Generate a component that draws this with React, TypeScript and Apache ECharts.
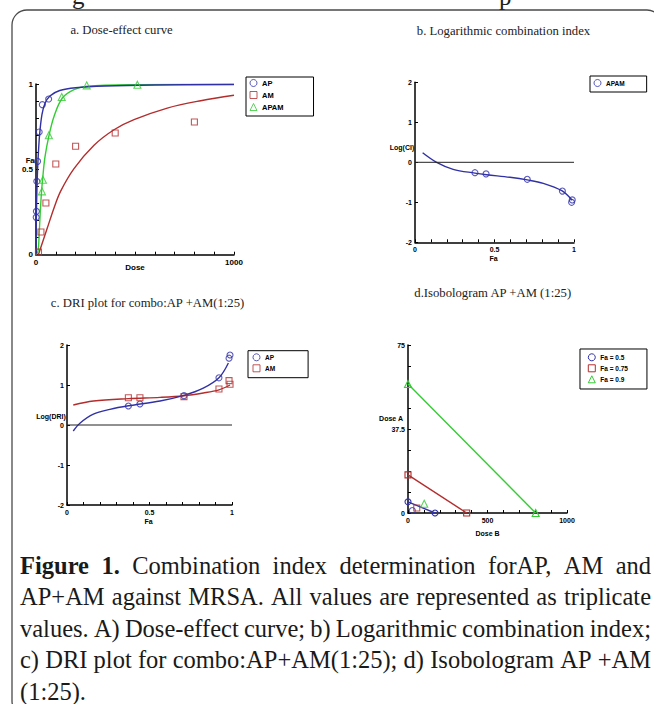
import React, { useEffect, useRef } from "react";
import * as echarts from "echarts";

const BLUE = "#3131a6";
const RED = "#b32d2d";
const GREEN = "#33cc33";

// ---- a. Dose-effect curve ----
const apDose = [1, 2, 4, 8, 16, 32, 64];
const apFa = [0.219, 0.254, 0.43, 0.547, 0.719, 0.879, 0.912];
const amDose = [12.5, 25, 50, 100, 200, 400, 800];
const amFa = [0.015, 0.133, 0.303, 0.531, 0.635, 0.713, 0.777];
const apamDose = [30, 35, 65, 130, 256, 512];
const apamFa = [0.371, 0.439, 0.7, 0.924, 0.992, 0.996];
const apCurveDose = [0, 1, 3, 6, 10, 18, 30, 45, 70, 120, 200, 350, 600, 1000];
const apCurveFa = [0, 0.15, 0.3, 0.43, 0.55, 0.7, 0.82, 0.885, 0.93, 0.962, 0.978, 0.988, 0.994, 0.997];
const amCurveDose = [12, 57, 91, 124, 192, 293, 394, 495, 663, 832, 1000];
const amCurveFa = [0, 0.156, 0.274, 0.371, 0.504, 0.641, 0.732, 0.791, 0.859, 0.902, 0.934];
const apamCurveDose = [0, 10, 16, 22, 28, 34, 45, 66, 91, 133, 192, 259, 512, 1000];
const apamCurveFa = [0, 0.02, 0.12, 0.26, 0.37, 0.45, 0.57, 0.7, 0.81, 0.918, 0.967, 0.987, 0.996, 0.999];
const aXLabels = [0, 1000];
const aYLabels = [0, 0.5, 1];

// ---- b. Logarithmic combination index ----
const ciFa = [0.377, 0.447, 0.706, 0.927, 0.989, 0.985];
const ciLog = [-0.26, -0.29, -0.425, -0.72, -0.94, -1.0];
const ciCurveFa = [0.048, 0.136, 0.24, 0.377, 0.45, 0.597, 0.706, 0.807, 0.923, 0.989];
const ciCurveLog = [0.24, 0, -0.175, -0.27, -0.31, -0.375, -0.44, -0.525, -0.71, -0.95];
const faLabels = [0, 0.5, 1];
const logLabels = [-2, -1, 0, 1, 2];

// ---- c. DRI plot ----
const driFa = [0.372, 0.442, 0.709, 0.921, 0.982, 0.988];
const driAP = [0.475, 0.525, 0.733, 1.18, 1.67, 1.75];
const driAM = [0.683, 0.683, 0.71, 0.9, 1.11, 1.02];
const driApCurveFa = [0.038, 0.08, 0.16, 0.26, 0.372, 0.564, 0.709, 0.826, 0.921, 0.978];
const driApCurve = [-0.15, 0.05, 0.27, 0.39, 0.48, 0.6, 0.74, 0.92, 1.18, 1.55];
const driAmCurveFa = [0.038, 0.16, 0.372, 0.564, 0.709, 0.826, 0.921, 0.988];
const driAmCurve = [0.5, 0.6, 0.66, 0.69, 0.73, 0.8, 0.88, 1.0];

// ---- d. Isobologram ----
const isoNames = ["Fa = 0.5", "Fa = 0.75", "Fa = 0.9"];
const isoDoseA = [5.0, 17.0, 57.6];
const isoDoseB = [170, 369, 803];
const comboDoseB = [27, 55, 102];
const comboDoseA = [1.1, 2.2, 4.1];
const dXLabels = [0, 500, 1000];
const dYLabels = [0, 37.5, 75];

const titles = [
  { text: "a. Dose-effect curve", x: 121.5, y: 30 },
  { text: "b. Logarithmic combination index", x: 503.5, y: 31 },
  { text: "c. DRI plot for combo:AP +AM(1:25)", x: 147.5, y: 302.7 },
  { text: "d.Isobologram AP +AM (1:25)", x: 492.7, y: 292.7 },
];
const axisNames = [
  { text: "Fa", x: 30, y: 160, s: 7.5 },
  { text: "Dose", x: 135, y: 267, s: 8 },
  { text: "Log(CI)", x: 402, y: 147, s: 7 },
  { text: "Fa", x: 493.5, y: 258, s: 7 },
  { text: "Log(DRI)", x: 51, y: 416, s: 7 },
  { text: "Fa", x: 148.5, y: 521, s: 7 },
  { text: "Dose A", x: 391, y: 418, s: 7 },
  { text: "Dose B", x: 487.5, y: 533, s: 7 },
];
const captionLines: { t: string; b?: boolean }[][] = [
  [{ t: "Figure", b: true }, { t: "1.", b: true }, { t: "Combination" }, { t: "index" }, { t: "determination" }, { t: "forAP," }, { t: "AM" }, { t: "and" }],
  "AP+AM against MRSA. All values are represented as triplicate".split(" ").map((t) => ({ t })),
  "values. A) Dose-effect curve; b) Logarithmic combination index;".split(" ").map((t) => ({ t })),
  "c) DRI plot for combo:AP+AM(1:25); d) Isobologram AP +AM".split(" ").map((t) => ({ t })),
  "(1:25).".split(" ").map((t) => ({ t })),
];
const captionY = [565, 596.5, 628, 659.5, 691];

const SANS = '"Liberation Sans Narrow", "Liberation Sans", Arial, sans-serif';
const SERIF = '"Liberation Serif", "Times New Roman", serif';
const CAP = 24.5;

const zip = (xs: number[], ys: number[]) => xs.map((x, i) => [x, ys[i]]);

function axis(gridIndex: number, min: number, max: number, interval: number, shown: number[], fontSize: number, margin: number) {
  return {
    type: "value",
    gridIndex,
    min,
    max,
    interval,
    axisLine: { show: true, onZero: false, lineStyle: { color: "#000", width: 1.5 } },
    axisTick: { show: true, inside: true, length: 3, lineStyle: { color: "#000", width: 1 } },
    splitLine: { show: false },
    axisLabel: {
      show: true,
      margin,
      fontSize,
      fontWeight: "bold",
      fontFamily: SANS,
      color: "#000",
      showMinLabel: true,
      showMaxLabel: true,
      formatter: (v: number) => (shown.some((s) => Math.abs(s - v) < 1e-6) ? String(+v.toFixed(4)) : ""),
    },
  };
}

const hollow = (c: string) => ({ color: "transparent", borderColor: c, borderWidth: 1.1 });

function curve(xi: number, data: number[][], color: string) {
  return {
    type: "line",
    xAxisIndex: xi,
    yAxisIndex: xi,
    data,
    smooth: 0.35,
    showSymbol: false,
    silent: true,
    lineStyle: { color, width: 1.4 },
    itemStyle: { color },
    z: 2,
  };
}
function marks(xi: number, name: string | undefined, data: number[][], color: string, symbol: string, size: number) {
  return {
    type: "scatter",
    name,
    xAxisIndex: xi,
    yAxisIndex: xi,
    data,
    symbol,
    symbolSize: size,
    itemStyle: hollow(color),
    z: 3,
  };
}

function legend(items: { name: string; icon: string }[], left: number, top: number, padding: number[], gap: number, fontSize: number) {
  return {
    orient: "vertical",
    left,
    top,
    padding,
    itemGap: gap,
    itemWidth: 7,
    itemHeight: 7,
    selectedMode: false,
    backgroundColor: "#fff",
    borderColor: "#000",
    borderWidth: 1,
    data: items,
    itemStyle: { borderWidth: 1 },
    formatter: (n: string) => n.split(":")[1],
    textStyle: { fontSize, fontWeight: "bold", fontFamily: SANS, color: "#000", lineHeight: 8 },
  };
}

export default function App() {
  const ref = useRef<HTMLDivElement>(null);
  useEffect(() => {
    if (!ref.current) return;
    const chart = echarts.init(ref.current, undefined, { renderer: "svg" });

    const canvas = document.createElement("canvas");
    const ctx = canvas.getContext("2d")!;
    const measure = (w: string, b?: boolean) => {
      ctx.font = `${b ? "bold " : ""}${CAP}px "Liberation Serif"`;
      return ctx.measureText(w).width;
    };
    const LEFT = 20;
    const RIGHT = 651;
    const captionEls: any[] = [];
    captionLines.forEach((words, li) => {
      const widths = words.map((w) => measure(w.t, w.b));
      const total = widths.reduce((a, b) => a + b, 0);
      const last = li === captionLines.length - 1;
      const gap = last || words.length < 2 ? measure(" ") : (RIGHT - LEFT - total) / (words.length - 1);
      let x = LEFT;
      words.forEach((w, i) => {
        captionEls.push({
          type: "text",
          x,
          y: captionY[li],
          style: {
            text: w.t,
            fontSize: CAP,
            fontFamily: SERIF,
            fontWeight: w.b ? "bold" : "normal",
            fill: "#1a1a1a",
            align: "left",
            verticalAlign: "middle",
          },
        });
        x += widths[i] + gap;
      });
    });

    const graphics: any[] = [
      {
        type: "rect",
        shape: { x: 12, y: 10, width: 650, height: 706, r: 15 },
        style: { fill: "none", stroke: "#4a4a4a", lineWidth: 1.3 },
        z: 0,
      },
      { type: "text", x: 72, y: -5, style: { text: "g", fontSize: 25, fontFamily: SERIF, fill: "#222", verticalAlign: "middle" } },
      { type: "text", x: 499, y: -4, style: { text: "p", fontSize: 25, fontFamily: SERIF, fill: "#222", verticalAlign: "middle" } },
      ...titles.map((t) => ({
        type: "text",
        x: t.x,
        y: t.y,
        style: { text: t.text, fontSize: 12.7, fontFamily: SERIF, fill: "#222", align: "center", verticalAlign: "middle" },
      })),
      ...axisNames.map((t) => ({
        type: "text",
        x: t.x,
        y: t.y,
        style: { text: t.text, fontSize: t.s, fontWeight: "bold", fontFamily: SANS, fill: "#000", align: "center", verticalAlign: "middle" },
      })),
      ...captionEls,
    ];

    const isoColors = [BLUE, RED, GREEN];
    const isoSymbols = ["circle", "rect", "triangle"];

    const option: any = {
      animation: false,
      backgroundColor: "#fff",
      grid: [
        { left: 36, top: 84, width: 198, height: 170.7, containLabel: false, outerBoundsMode: "none" },
        { left: 415, top: 82.3, width: 159, height: 160, containLabel: false, outerBoundsMode: "none" },
        { left: 67, top: 345, width: 165, height: 160, containLabel: false, outerBoundsMode: "none" },
        { left: 408, top: 345, width: 159, height: 168, containLabel: false, outerBoundsMode: "none" },
      ],
      xAxis: [
        axis(0, 0, 1000, 100, aXLabels, 8, 4),
        axis(1, 0, 1, 0.1, faLabels, 7, 4),
        axis(2, 0, 1, 0.1, faLabels, 7, 4),
        axis(3, 0, 1000, 100, dXLabels, 7, 4),
      ],
      yAxis: [
        axis(0, 0, 1, 0.1, aYLabels, 8, 3),
        axis(1, -2, 2, 1, logLabels, 7, 3),
        axis(2, -2, 2, 1, logLabels, 7, 3),
        axis(3, 0, 75, 9.375, dYLabels, 7, 3),
      ],
      legend: [
        legend(
          [
            { name: "a:AP", icon: "circle" },
            { name: "a:AM", icon: "rect" },
            { name: "a:APAM", icon: "triangle" },
          ],
          246, 77, [2, 30, 5, 3.5], 4, 7.5
        ),
        legend([{ name: "b:APAM", icon: "circle" }], 590, 76, [3, 22, 5, 3.5], 3, 6.5),
        legend(
          [
            { name: "c:AP", icon: "circle" },
            { name: "c:AM", icon: "rect" },
          ],
          248, 350.7, [2.6, 33, 5.4, 4.5], 3, 6.5
        ),
        legend(
          isoNames.map((n, i) => ({ name: "d:" + n, icon: isoSymbols[i] })),
          580, 349, [4.3, 19, 5.7, 7.8], 3, 6.5
        ),
      ],
      series: [
        // a
        curve(0, zip(amCurveDose, amCurveFa), RED),
        curve(0, zip(apamCurveDose, apamCurveFa), GREEN),
        curve(0, zip(apCurveDose, apCurveFa), BLUE),
        marks(0, "a:AP", zip(apDose, apFa), BLUE, "circle", 6),
        marks(0, "a:AM", zip(amDose, amFa), RED, "rect", 6),
        marks(0, "a:APAM", zip(apamDose, apamFa), GREEN, "triangle", 7),
        // b
        {
          type: "line",
          xAxisIndex: 1,
          yAxisIndex: 1,
          data: zip([0, 1], [0, 0]),
          showSymbol: false,
          silent: true,
          lineStyle: { color: "#222", width: 1 },
        },
        curve(1, zip(ciCurveFa, ciCurveLog), BLUE),
        marks(1, "b:APAM", zip(ciFa, ciLog), BLUE, "circle", 6),
        // c
        {
          type: "line",
          xAxisIndex: 2,
          yAxisIndex: 2,
          data: zip([0, 1], [0, 0]),
          showSymbol: false,
          silent: true,
          lineStyle: { color: "#222", width: 1 },
        },
        curve(2, zip(driAmCurveFa, driAmCurve), RED),
        curve(2, zip(driApCurveFa, driApCurve), BLUE),
        marks(2, "c:AP", zip(driFa, driAP), BLUE, "circle", 6),
        marks(2, "c:AM", zip(driFa, driAM), RED, "rect", 6),
        // d
        ...isoNames.map((n, i) => ({
          type: "line",
          name: "d:" + n,
          xAxisIndex: 3,
          yAxisIndex: 3,
          data: [
            [0, isoDoseA[i]],
            [isoDoseB[i], 0],
          ],
          showSymbol: true,
          symbol: isoSymbols[i],
          symbolSize: i === 2 ? 7 : 6,
          lineStyle: { color: isoColors[i], width: 1.4 },
          itemStyle: hollow(isoColors[i]),
          z: 3,
        })),
        ...isoNames.map((n, i) => marks(3, undefined, [[comboDoseB[i], comboDoseA[i]]], isoColors[i], isoSymbols[i], i === 2 ? 7 : 6)),
      ],
      graphic: { elements: graphics },
    };
    chart.setOption(option);
    return () => chart.dispose();
  }, []);
  return (
    <div
      ref={ref}
      style={{ position: "absolute", left: 0, top: 0, width: 654, height: 704, background: "#fff" }}
    />
  );
}
